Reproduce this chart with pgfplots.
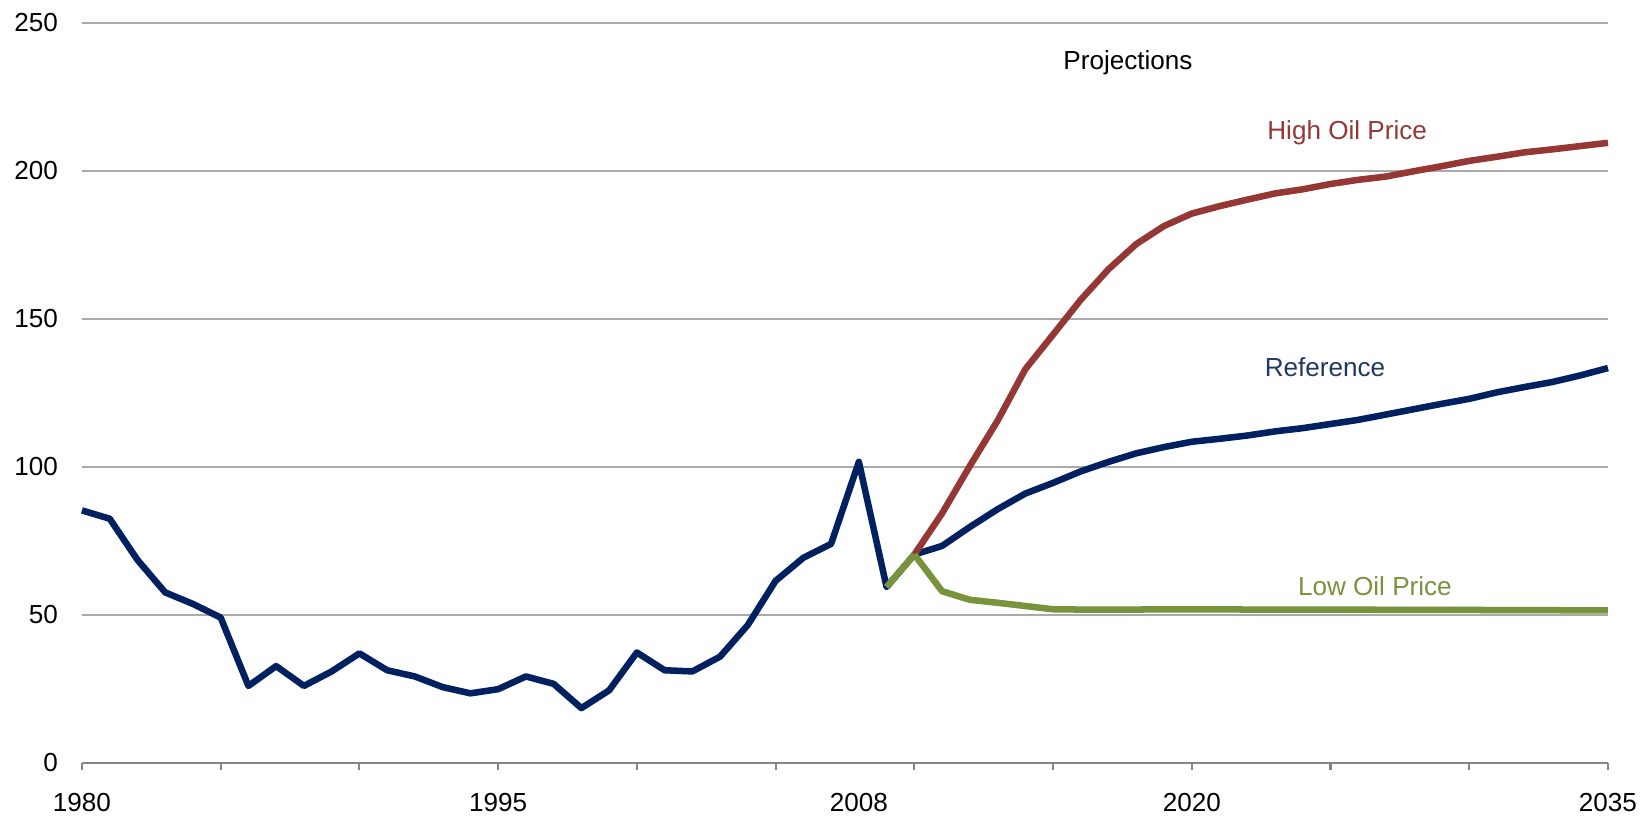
\documentclass[border=0pt]{standalone}
\usepackage{fontspec}
\setmainfont{Liberation Sans}
\usepackage{pgfplots}
\pgfplotsset{compat=1.18}

\definecolor{histblue}{RGB}{0,32,96}
\definecolor{highred}{RGB}{149,55,53}
\definecolor{lowgreen}{RGB}{119,147,60}
\definecolor{reflabel}{RGB}{31,56,100}
\definecolor{gridgray}{RGB}{170,170,170}
\definecolor{axgray}{RGB}{134,134,134}

\pgfplotstableread{
year val
1980 85.3
1981 82.5
1982 68.6
1983 57.6
1984 53.7
1985 49.1
1986 26.0
1987 32.7
1988 26.0
1989 30.9
1990 37.0
1991 31.3
1992 29.2
1993 25.6
1994 23.5
1995 24.9
1996 29.2
1997 26.7
1998 18.5
1999 24.5
2000 37.3
2001 31.3
2002 30.9
2003 35.9
2004 46.6
2005 61.5
2006 69.3
2007 74.0
2008 101.7
2009 59.4
2010 70.4
}\history

\pgfplotstableread{
year ref high low
2010 70.4 70.4 70.4
2011 73.3 84.3 58.0
2012 79.7 100.3 55.1
2013 85.7 115.6 54.1
2014 91.0 133.0 53.0
2015 94.6 144.7 51.9
2016 98.5 156.5 51.8
2017 101.7 166.8 51.8
2018 104.6 175.3 51.8
2019 106.7 181.4 51.9
2020 108.5 185.6 51.9
2021 109.5 188.1 51.9
2022 110.6 190.3 51.8
2023 112.0 192.4 51.8
2024 113.1 193.8 51.8
2025 114.5 195.6 51.8
2026 115.9 197.0 51.8
2027 117.7 198.1 51.7
2028 119.5 199.9 51.7
2029 121.3 201.6 51.7
2030 123.0 203.4 51.7
2031 125.2 204.8 51.6
2032 127.0 206.3 51.6
2033 128.7 207.3 51.6
2034 130.9 208.4 51.5
2035 133.4 209.5 51.5
}\proj

\begin{document}
\begin{tikzpicture}
\path[use as bounding box] (-31.4pt,-20.7pt) rectangle (600.8pt,292.3pt);
\begin{axis}[
    scale only axis,
    width=584.7pt, height=283.5pt,
    xmin=1980, xmax=2035,
    ymin=0, ymax=250,
    axis x line=bottom,
    axis y line=left,
    x axis line style={-, color=axgray, line width=1pt},
    y axis line style={draw=none},
    xtick={1980,1985,...,2035},
    xticklabels={},
    extra x ticks={1980,1995,2008,2020,2035},
    extra x tick labels={1980,1995,2008,2020,2035},
    extra x tick style={major tick length=0pt, xticklabel style={yshift=-8pt}},
    tick align=outside,
    major tick length=2.7pt,
    x tick style={color=axgray, line width=0.8pt},
    ytick={0,50,...,250},
    y tick style={draw=none},
    yticklabel style={xshift=-3pt},
    ymajorgrids,
    grid style={gridgray, line width=0.8pt},
    /pgf/number format/assume math mode=true,
    /pgf/number format/1000 sep={},
    tick label style={font=\normalsize, black},
    clip=false,
]
\addplot[histblue, line width=2.5pt, line join=round] table[x=year, y=val] {\history};
\addplot[histblue, line width=2.5pt, line join=round] table[x=year, y=ref] {\proj};
\addplot[highred, line width=2.5pt, line join=round] table[x=year, y=high] {\proj};
\addplot[lowgreen, line width=2.5pt, line join=round] coordinates {(2009,59.4) (2010,70.4)};
\addplot[lowgreen, line width=2.5pt, line join=round] table[x=year, y=low] {\proj};

\node[black] at (axis cs:2017.7,236.5) {Projections};
\node[highred] at (axis cs:2025.6,213) {High Oil Price};
\node[reflabel] at (axis cs:2024.8,133.7) {Reference};
\node[lowgreen] at (axis cs:2026.6,59.7) {Low Oil Price};
\end{axis}
\end{tikzpicture}
\end{document}
